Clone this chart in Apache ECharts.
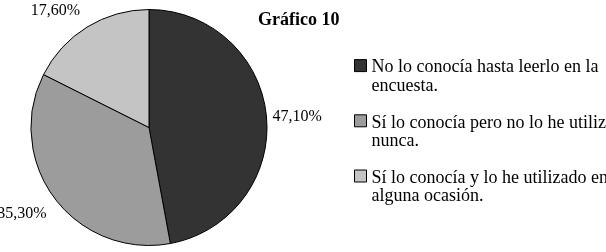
<!DOCTYPE html>
<html>
<head>
<meta charset="utf-8">
<script src="https://cdn.jsdelivr.net/npm/echarts@6/dist/echarts.min.js"></script>
<style>
html,body{margin:0;padding:0;background:#fff;}
#c{width:606px;height:252px;}
</style>
</head>
<body>
<div id="c"></div>
<script>
var titleText = 'Gráfico 10';
var categories = [
  'No lo conocía hasta leerlo en la\nencuesta.',
  'Sí lo conocía pero no lo he utilizado\nnunca.',
  'Sí lo conocía y lo he utilizado en\nalguna ocasión.'
];
var values = [47.1, 35.3, 17.6];
var valueLabels = ['47,10%', '35,30%', '17,60%'];
var colors = ['#333333', '#9c9c9c', '#c4c4c4'];
var labelShift = [[1, 0], [-3, 15], [-2, -16]];

var chart = echarts.init(document.getElementById('c'), null, {renderer: 'canvas'});
var serif = '"Liberation Serif", "Times New Roman", serif';
chart.setOption({
  animation: false,
  backgroundColor: '#ffffff',
  color: colors,
  title: {
    text: titleText,
    left: 258,
    top: 11,
    padding: 0,
    textStyle: {fontFamily: serif, fontWeight: 'bold', fontSize: 18, color: '#000'}
  },
  legend: {
    orient: 'vertical',
    left: 354,
    top: 36,
    padding: 0,
    itemGap: -4,
    itemWidth: 12,
    itemHeight: 12,
    icon: 'rect',
    itemStyle: {borderColor: '#000', borderWidth: 1},
    textStyle: {
      fontFamily: serif, fontSize: 18, color: '#000', lineHeight: 18.4,
      rich: {
        s: {fontFamily: serif, fontSize: 18, lineHeight: 22.4},
        t: {fontFamily: serif, fontSize: 18, color: '#000', lineHeight: 18.4}
      }
    },
    formatter: function (name) {
      var parts = name.split('\n');
      return '{s| }\n' + parts.map(function (p) { return '{t|' + p + '}'; }).join('\n');
    },
    data: categories
  },
  series: [{
    type: 'pie',
    center: [149, 127.5],
    radius: 118,
    startAngle: 90,
    clockwise: true,
    avoidLabelOverlap: false,
    itemStyle: {borderColor: '#000', borderWidth: 1},
    label: {
      show: true,
      position: 'outside',
      overflow: 'none',
      fontFamily: serif,
      fontSize: 16,
      color: '#000',
      formatter: function (p) { return valueLabels[p.dataIndex]; }
    },
    labelLine: {show: false, length: 0, length2: 0},
    labelLayout: function (p) {
      return {dx: labelShift[p.dataIndex][0], dy: labelShift[p.dataIndex][1]};
    },
    emphasis: {disabled: true},
    data: categories.map(function (n, i) { return {name: n, value: values[i]}; })
  }]
});
</script>
</body>
</html>
